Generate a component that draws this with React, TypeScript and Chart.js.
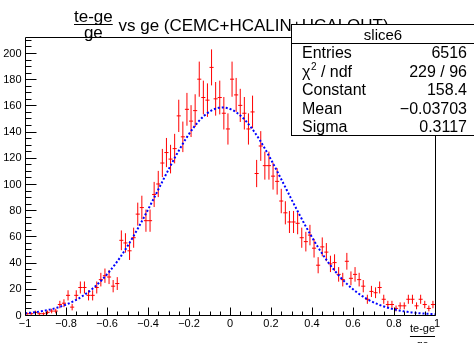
import React, { useEffect, useRef } from 'react';
import { Chart, registerables } from 'chart.js';

Chart.register(...registerables);

// ---- data ----
const X_MIN = -1;
const X_MAX = 1;
const BIN_WIDTH = 0.02;
const Y_MAX = 212.2;

const counts = [
  1, 1, 2, 1, 1, 2, 3, 3, 8, 9,
  15, 6, 15, 21, 21, 15, 15, 21, 27, 30,
  29, 22, 24, 57, 55, 49, 59, 77, 82, 72,
  72, 92, 100, 116, 124, 119, 127, 152, 136, 157,
  148, 156, 180, 166, 164, 189, 165, 166, 154, 142,
  180, 168, 160, 154, 142, 155, 108, 129, 114, 114,
  106, 102, 87, 78, 71, 71, 70, 59, 56, 61,
  51, 38, 52, 48, 39, 40, 31, 27, 41, 28,
  31, 27, 22, 12, 18, 17, 21, 12, 8, 8,
  5, 7, 7, 12, 12, 7, 12, 8, 5, 8,
];

const xTicks = [-1, -0.8, -0.6, -0.4, -0.2, 0, 0.2, 0.4, 0.6, 0.8, 1];
const xTickLabels = ['\u22121', '\u22120.8', '\u22120.6', '\u22120.4', '\u22120.2', '0', '0.2', '0.4', '0.6', '0.8', '1'];
const yTicks = [0, 20, 40, 60, 80, 100, 120, 140, 160, 180, 200];
const yTickLabels = ['0', '20', '40', '60', '80', '100', '120', '140', '160', '180', '200'];

// Gaussian fit parameters (from the stats box)
const fitConstant = 158.4;
const fitMean = -0.03703;
const fitSigma = 0.3117;

const statsTitle = 'slice6';
const statsLabels = ['Entries', 'CHI2', 'Constant', 'Mean', 'Sigma'];
const statsValues = ['6516', '229 / 96', '158.4', '\u22120.03703', '0.3117'];

const titleNum = 'te-ge';
const titleDen = 'ge';
const titleRest = ' vs ge (CEMC+HCALIN+HCALOUT)';

const FONT = '"Liberation Sans", Arial, Helvetica, sans-serif';

function drawFraction(ctx: CanvasRenderingContext2D, num: string, den: string, cx: number, lineY: number, size: number, gap: number) {
  ctx.font = `${size}px ${FONT}`;
  const w = Math.max(ctx.measureText(num).width, ctx.measureText(den).width);
  ctx.textAlign = 'center';
  ctx.textBaseline = 'alphabetic';
  ctx.fillText(num, cx, lineY - gap);
  ctx.fillText(den, cx, lineY + gap + size * 0.72);
  ctx.beginPath();
  ctx.lineWidth = 1;
  ctx.moveTo(cx - w / 2, lineY + 0.5);
  ctx.lineTo(cx + w / 2, lineY + 0.5);
  ctx.stroke();
  return w;
}

const rootPlugin = {
  id: 'rootStyle',
  beforeDatasetsDraw(chart: any) {
    const ctx = chart.ctx as CanvasRenderingContext2D;
    const xs = chart.scales.x;
    const ys = chart.scales.y;
    const area = chart.chartArea;
    ctx.save();
    ctx.beginPath();
    ctx.rect(area.left, area.top, area.right - area.left, area.bottom - area.top);
    ctx.clip();
    ctx.strokeStyle = '#ff0000';
    ctx.lineWidth = 1;
    const meta = chart.getDatasetMeta(0);
    meta.data.forEach((pt: any, i: number) => {
      const n = counts[i];
      const err = Math.sqrt(n);
      const cx = pt.x;
      const cy = pt.y;
      const xc = X_MIN + BIN_WIDTH * (i + 0.5);
      ctx.beginPath();
      ctx.moveTo(cx, ys.getPixelForValue(n - err));
      ctx.lineTo(cx, ys.getPixelForValue(n + err));
      ctx.moveTo(xs.getPixelForValue(xc - BIN_WIDTH / 2), cy);
      ctx.lineTo(xs.getPixelForValue(xc + BIN_WIDTH / 2), cy);
      ctx.stroke();
    });
    ctx.restore();
  },
  afterDraw(chart: any) {
    const ctx = chart.ctx as CanvasRenderingContext2D;
    const xs = chart.scales.x;
    const ys = chart.scales.y;
    const a = chart.chartArea;
    const L = Math.round(a.left) + 0.5;
    const R = Math.round(a.right) + 0.5;
    const T = Math.round(a.top) + 0.5;
    const B = Math.round(a.bottom) + 0.5;
    ctx.save();
    ctx.strokeStyle = '#000';
    ctx.fillStyle = '#000';
    ctx.lineWidth = 1;
    // frame
    ctx.beginPath();
    ctx.rect(L, T, R - L, B - T);
    ctx.stroke();

    // y ticks (major every 20, minor every 5)
    ctx.beginPath();
    for (let v = 0; v <= Y_MAX; v += 5) {
      const y = Math.round(ys.getPixelForValue(v)) + 0.5;
      const len = v % 20 === 0 ? 11 : 6;
      ctx.moveTo(L, y);
      ctx.lineTo(L + len, y);
    }
    // x ticks (major every 0.2, minor every 0.05)
    for (let k = 0; k <= 40; k++) {
      const v = X_MIN + k * 0.05;
      const x = Math.round(xs.getPixelForValue(v)) + 0.5;
      const len = k % 4 === 0 ? 8 : 4;
      ctx.moveTo(x, B);
      ctx.lineTo(x, B - len);
    }
    ctx.stroke();

    // tick labels
    ctx.font = `11px ${FONT}`;
    ctx.textAlign = 'right';
    ctx.textBaseline = 'middle';
    yTicks.forEach((v, i) => {
      ctx.fillText(yTickLabels[i], 21.5, ys.getPixelForValue(v) + 0.5);
    });
    ctx.textAlign = 'center';
    ctx.textBaseline = 'alphabetic';
    xTicks.forEach((v, i) => {
      let x = xs.getPixelForValue(v);
      if (i === xTicks.length - 1) x += 2;
      ctx.fillText(xTickLabels[i], x, 327);
    });

    // x-axis title (fraction)
    drawFraction(ctx, titleNum, titleDen, 422.5, 336, 11, 4);

    // main title
    ctx.font = `17px ${FONT}`;
    const numW = (() => { ctx.font = `17px ${FONT}`; return ctx.measureText(titleNum).width; })();
    const fracCx = 74 + numW / 2;
    drawFraction(ctx, titleNum, titleDen, fracCx, 24, 17, 2);
    ctx.font = `17px ${FONT}`;
    ctx.textAlign = 'left';
    ctx.textBaseline = 'alphabetic';
    ctx.fillText(titleRest, fracCx + numW / 2 + 1, 31);

    // stats box
    const bx = 291.5, by = 24.5, bw = 200, bh = 111;
    ctx.fillStyle = '#fff';
    ctx.fillRect(bx, by, bw, bh);
    ctx.strokeStyle = '#000';
    ctx.strokeRect(bx, by, bw, bh);
    ctx.beginPath();
    ctx.moveTo(bx, 43.5);
    ctx.lineTo(bx + bw, 43.5);
    ctx.stroke();
    ctx.fillStyle = '#000';
    ctx.font = `15px ${FONT}`;
    ctx.textAlign = 'center';
    ctx.fillText(statsTitle, 383, 40);
    const baselines = [58, 76.5, 95, 113.5, 132];
    statsLabels.forEach((lab, i) => {
      const yb = baselines[i];
      ctx.textAlign = 'left';
      ctx.font = `16px ${FONT}`;
      if (lab === 'CHI2') {
        ctx.fillText('\u03c7', 302, yb);
        const w = ctx.measureText('\u03c7').width;
        ctx.font = `10px ${FONT}`;
        ctx.fillText('2', 302 + w + 0.5, yb - 7);
        const w2 = ctx.measureText('2').width;
        ctx.font = `16px ${FONT}`;
        ctx.fillText(' / ndf', 302 + w + w2 + 0.5, yb);
      } else {
        ctx.fillText(lab, 302, yb);
      }
      ctx.textAlign = 'right';
      ctx.fillText(statsValues[i], 467, yb);
    });
    ctx.restore();
  },
};

export default function App() {
  const ref = useRef<HTMLCanvasElement | null>(null);
  useEffect(() => {
    document.body.style.margin = '0';
    const canvas = ref.current;
    if (!canvas) return;
    const points = counts.map((c, i) => ({ x: X_MIN + BIN_WIDTH * (i + 0.5), y: c }));
    const fitPts: { x: number; y: number }[] = [];
    const nFit = 400;
    for (let k = 0; k <= nFit; k++) {
      const x = X_MIN + ((X_MAX - X_MIN) * k) / nFit;
      const z = (x - fitMean) / fitSigma;
      fitPts.push({ x, y: fitConstant * Math.exp(-0.5 * z * z) });
    }
    const chart = new Chart(canvas, {
      type: 'scatter',
      data: {
        datasets: [
          { label: 'hist', data: points, pointRadius: 0, showLine: false, borderColor: '#ff0000' },
          {
            label: 'fit',
            data: fitPts,
            showLine: true,
            pointRadius: 0,
            borderColor: '#0000ff',
            borderWidth: 2,
            borderDash: [2, 2],
            tension: 0,
            fill: false,
          },
        ],
      },
      options: {
        responsive: false,
        devicePixelRatio: 1,
        animation: false,
        layout: { padding: { left: 25, top: 37, right: 39, bottom: 28 } },
        scales: {
          x: { type: 'linear', min: X_MIN, max: X_MAX, display: false },
          y: { type: 'linear', min: 0, max: Y_MAX, display: false },
        },
        plugins: { legend: { display: false }, tooltip: { enabled: false }, title: { display: false } },
        events: [],
      },
      plugins: [rootPlugin],
    });
    return () => chart.destroy();
  }, []);
  return (
    <div style={{ width: 474, height: 343, background: '#fff' }}>
      <canvas ref={ref} width={474} height={343} style={{ display: 'block', width: 474, height: 343 }} />
    </div>
  );
}
